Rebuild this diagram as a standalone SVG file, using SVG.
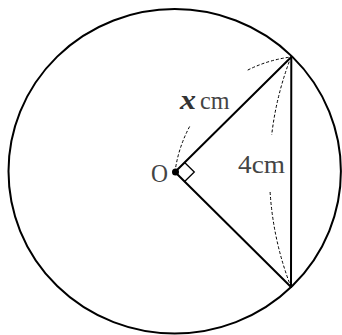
<svg xmlns="http://www.w3.org/2000/svg" width="342" height="335" viewBox="0 0 342 335">
<style>
.solid{fill:none;stroke:#000;stroke-width:2;stroke-linecap:round}
.dash{fill:none;stroke:#000;stroke-width:1;stroke-dasharray:3 2}
</style>
<rect width="342" height="335" fill="#fff"/>
<g id="circle"><ellipse class="solid" cx="174.7" cy="171.3" rx="166.2" ry="162.2"/></g>
<g id="connectors">
<line class="solid" x1="175" y1="172" x2="291.3" y2="57"/>
<line class="solid" x1="175" y1="172" x2="291" y2="287"/>
<line class="solid" x1="291.3" y1="57" x2="291" y2="287"/>
<path class="solid" style="stroke-width:1.3" d="M184.6,162.5 L194.3,172 L184.6,181.5"/>
<path class="dash" d="M175,172 A132,132 0 0 1 189.7,126.4 M247.7,70.1 A132,132 0 0 1 291,57"/>
<path class="dash" d="M291,57 A318,318 0 0 0 271.7,134.9 M270.1,192 A318,318 0 0 0 291,287"/>
</g>
<g id="O"><circle cx="175.5" cy="172" r="3.5" fill="#000"/><text x="151" y="182" font-family="Liberation Serif, serif" font-size="26" fill="#444" textLength="17" lengthAdjust="spacingAndGlyphs">O</text></g>
<g id="label-x"><text x="180" y="108.5" font-family="Liberation Serif, serif" font-size="26" fill="#444"><tspan font-weight="bold" font-style="italic" font-size="27" fill="#333" textLength="16" lengthAdjust="spacingAndGlyphs">x</tspan><tspan x="200" textLength="29.5" lengthAdjust="spacingAndGlyphs">cm</tspan></text></g>
<g id="label-4"><text x="238" y="172.5" font-family="Liberation Serif, serif" font-size="26" fill="#444" textLength="47" lengthAdjust="spacingAndGlyphs">4cm</text></g>
</svg>
